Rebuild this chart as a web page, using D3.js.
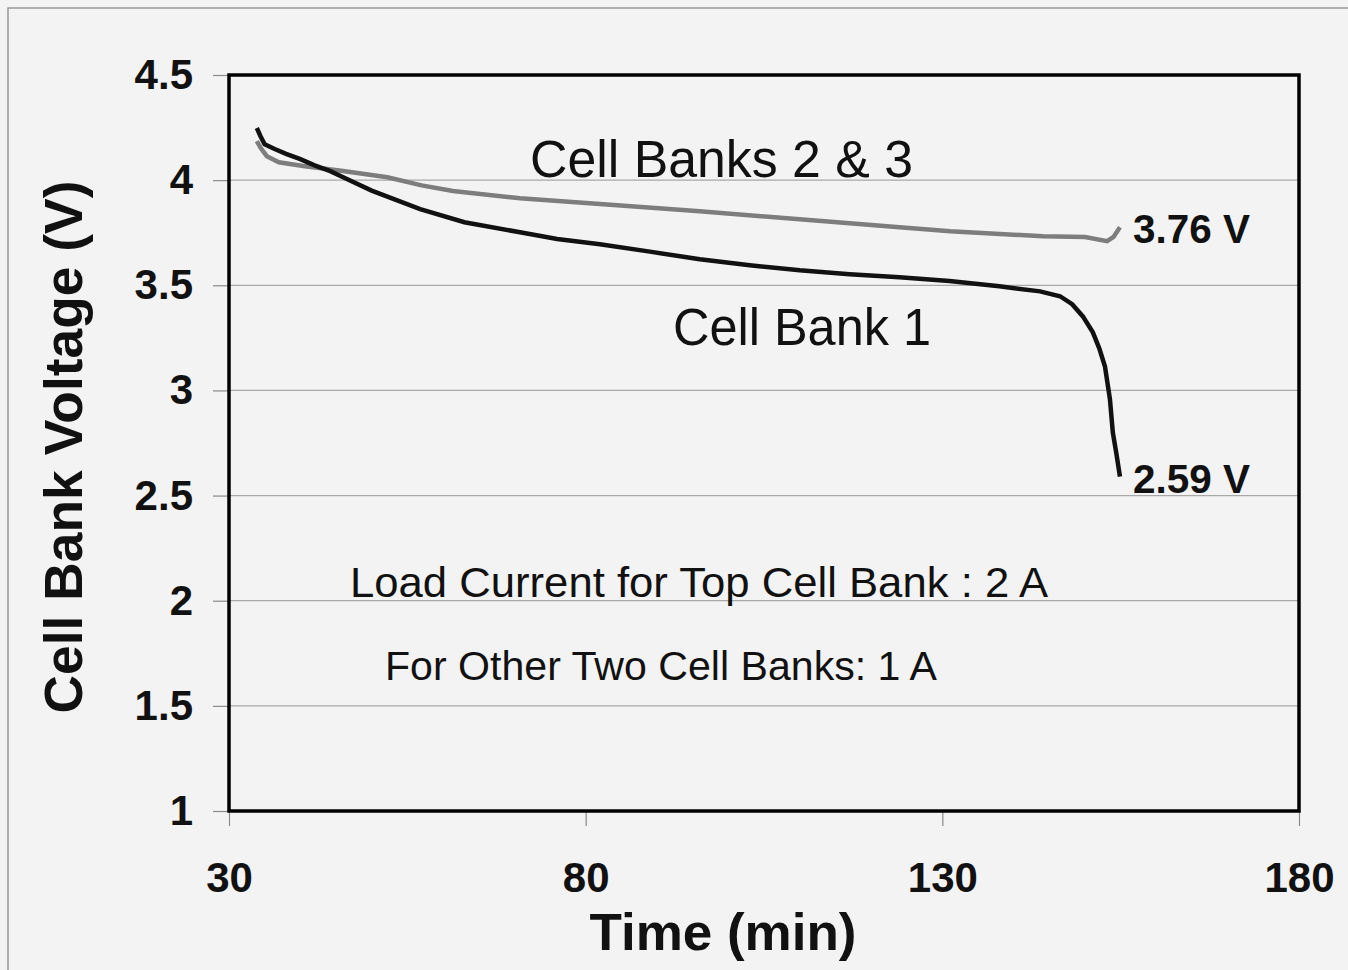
<!DOCTYPE html>
<html>
<head>
<meta charset="utf-8">
<script src="https://cdn.jsdelivr.net/npm/d3@7"></script>
<style>
  html, body { margin: 0; padding: 0; background: #f3f3f3; }
  svg { display: block; font-family: "Liberation Sans", Arial, sans-serif; }
</style>
</head>
<body>
<div id="chart"></div>
<script>
// Cell Bank 1 (black)
const bank1Time = [33.9, 34.4, 35.0, 36.4, 38, 40.0, 42, 44.2, 46, 50, 56.8, 63, 70.8, 76, 82, 89, 96, 103, 110, 117, 124, 131, 138, 143.7, 146.5, 148.2, 149.7, 151.1, 152.0, 152.8, 153.5, 153.9, 154.4, 154.9];
const bank1Volt = [4.248, 4.21, 4.171, 4.148, 4.125, 4.10, 4.07, 4.043, 4.014, 3.95, 3.862, 3.80, 3.752, 3.72, 3.695, 3.66, 3.624, 3.595, 3.571, 3.553, 3.538, 3.52, 3.495, 3.471, 3.448, 3.41, 3.352, 3.276, 3.20, 3.114, 2.957, 2.80, 2.70, 2.59];
// Cell Banks 2 & 3 (grey)
const bank23Time = [33.9, 34.5, 35.3, 37, 40.4, 46, 52.2, 57, 61.4, 70.8, 82, 96, 110, 124, 131.1, 144.1, 150, 153.1, 154.0, 154.9];
const bank23Volt = [4.186, 4.15, 4.114, 4.085, 4.067, 4.043, 4.014, 3.975, 3.948, 3.914, 3.886, 3.852, 3.814, 3.776, 3.757, 3.733, 3.73, 3.71, 3.73, 3.776];

const xTicks = [30, 80, 130, 180];
const yTicks = [1, 1.5, 2, 2.5, 3, 3.5, 4, 4.5];

const width = 1348, height = 970;
const margin = { top: 75, right: 49, bottom: 159, left: 229 };

const svg = d3.select('#chart').append('svg')
    .attr('width', width)
    .attr('height', height);

// fond + bordure extérieure
svg.append('rect').attr('width', width).attr('height', height).attr('fill', '#f3f3f3');
svg.append('rect')
    .attr('x', 8).attr('y', 8)
    .attr('width', width + 20).attr('height', height + 20)
    .attr('fill', 'none').attr('stroke', '#9a9a9a').attr('stroke-width', 1.5);

const x = d3.scaleLinear().domain([30, 180]).range([margin.left, width - margin.right]);
const y = d3.scaleLinear().domain([1, 4.5]).range([height - margin.bottom, margin.top]);

// grille
svg.append('g')
    .selectAll('line')
    .data(yTicks.filter(d => d > 1 && d < 4.5))
    .enter().append('line')
    .attr('x1', x(30)).attr('x2', x(180))
    .attr('y1', d => y(d)).attr('y2', d => y(d))
    .attr('stroke', '#a8a8a8').attr('stroke-width', 1.2);

// axes
const yAxis = svg.append('g')
    .attr('transform', `translate(${x(30)},0)`)
    .call(d3.axisLeft(y).tickValues(yTicks).tickSize(16).tickPadding(20).tickFormat(d3.format('')));
const xAxis = svg.append('g')
    .attr('transform', `translate(0,${y(1)})`)
    .call(d3.axisBottom(x).tickValues(xTicks).tickSize(15).tickPadding(36).tickFormat(d3.format('')));

[yAxis, xAxis].forEach(a => {
    a.select('.domain').remove();
    a.selectAll('.tick line').attr('stroke', '#8a8a8a').attr('stroke-width', 1.2);
    a.selectAll('.tick text')
        .attr('fill', '#111')
        .attr('font-size', 42)
        .attr('font-weight', 'bold')
        .attr('font-family', '"Liberation Sans", Arial, sans-serif');
});

// séries
const line = d3.line().x(d => x(d[0])).y(d => y(d[1]));
svg.append('path')
    .datum(d3.zip(bank23Time, bank23Volt))
    .attr('d', line)
    .attr('fill', 'none').attr('stroke', '#7d7d7d').attr('stroke-width', 4.5);
svg.append('path')
    .datum(d3.zip(bank1Time, bank1Volt))
    .attr('d', line)
    .attr('fill', 'none').attr('stroke', '#111').attr('stroke-width', 4.5);

// cadre de la zone de tracé
svg.append('rect')
    .attr('x', x(30)).attr('y', y(4.5))
    .attr('width', x(180) - x(30)).attr('height', y(1) - y(4.5))
    .attr('fill', 'none').attr('stroke', '#000').attr('stroke-width', 3.5);

// titres des axes
svg.append('text')
    .attr('x', 723).attr('y', 950)
    .attr('text-anchor', 'middle')
    .attr('font-size', 52).attr('font-weight', 'bold').attr('fill', '#111')
    .attr('textLength', 267).attr('lengthAdjust', 'spacingAndGlyphs')
    .text('Time (min)');
svg.append('text')
    .attr('transform', `translate(82,${(y(1) + y(4.5)) / 2 + 4}) rotate(-90)`)
    .attr('text-anchor', 'middle')
    .attr('font-size', 53).attr('font-weight', 'bold').attr('fill', '#111')
    .attr('textLength', 533).attr('lengthAdjust', 'spacingAndGlyphs')
    .text('Cell Bank Voltage (V)');

// annotations
const notes = [
    { text: 'Cell Banks 2 & 3', x: 530, y: 177, size: 51, weight: 'normal', len: 383 },
    { text: 'Cell Bank 1', x: 673, y: 345, size: 51, weight: 'normal', len: 258 },
    { text: '3.76 V', x: 1133, y: 243, size: 40, weight: 'bold', len: 117 },
    { text: '2.59 V', x: 1133, y: 493, size: 40, weight: 'bold', len: 117 },
    { text: 'Load Current for Top Cell Bank : 2 A', x: 350, y: 597, size: 43, weight: 'normal', len: 698 },
    { text: 'For Other Two Cell Banks: 1 A', x: 385, y: 680, size: 41, weight: 'normal', len: 552 }
];
svg.append('g').selectAll('text')
    .data(notes)
    .enter().append('text')
    .attr('x', d => d.x).attr('y', d => d.y)
    .attr('font-size', d => d.size)
    .attr('font-weight', d => d.weight)
    .attr('textLength', d => d.len)
    .attr('lengthAdjust', 'spacingAndGlyphs')
    .attr('fill', '#111')
    .text(d => d.text);
</script>
</body>
</html>
